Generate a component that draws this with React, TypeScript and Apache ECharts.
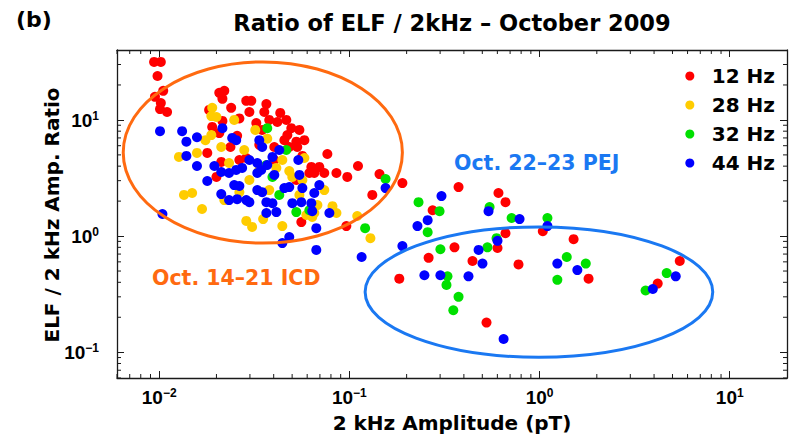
import React, { useEffect, useRef } from 'react';
import * as echarts from 'echarts';

const seriesNames = ['12 Hz', '28 Hz', '32 Hz', '44 Hz'];
const seriesColors = ['#ff0000', '#ffcc00', '#00e000', '#0000ff'];

// [2 kHz amplitude (pT), ELF / 2 kHz ratio]
const hz12: number[][] = [
  [0.0094, 31.6], [0.0102, 31.6], [0.0098, 23.9], [0.0095, 15.8], [0.0105, 17.8], [0.0102, 14.0], [0.0101, 12.4], [0.0110, 11.7],
  [0.0207, 17.1], [0.0220, 17.8], [0.0215, 15.2], [0.0287, 14.6], [0.0305, 14.6], [0.0366, 13.7], [0.0298, 11.7], [0.0239, 12.7],
  [0.0215, 9.8], [0.0190, 8.7], [0.0207, 7.7], [0.0257, 7.3], [0.0324, 9.4], [0.0348, 8.2], [0.0433, 11.5], [0.0418, 9.6], [0.0466, 10.0],
  [0.0472, 7.4], [0.0526, 6.5], [0.0532, 5.85], [0.0483, 5.85], [0.0403, 5.85], [0.0766, 5.09], [0.0566, 4.9], [0.0631, 3.94], [0.0695, 3.94],
  [0.0738, 3.49], [0.0855, 3.49], [0.111, 4.01], [0.144, 3.42], [0.0975, 3.23], [0.0654, 3.49], [0.0179, 5.2], [0.0200, 3.23], [0.0212, 4.35],
  [0.0237, 5.85], [0.0287, 4.7], [0.0526, 3.04], [0.0559, 1.32], [0.0616, 3.49], [0.132, 2.26], [0.0964, 1.22], [0.190, 2.86],
  [0.0455, 6.7], [0.0495, 8.5], [0.0336, 6.1], [0.0264, 4.52], [0.0403, 4.52], [0.0183, 12.2],
  [0.0264, 10.3], [0.0379, 10.0], [0.0546, 8.2], [0.0580, 6.7], [0.0357, 11.7],
  [0.375, 2.64], [0.608, 2.35], [0.662, 1.96], [0.274, 1.67], [0.357, 0.80], [0.261, 0.65], [0.444, 0.61], [0.601, 0.79], [0.662, 1.06],
  [0.775, 0.57], [0.183, 0.43], [0.526, 0.18], [1.04, 1.10], [1.51, 0.94], [1.81, 0.43], [5.46, 0.61], [4.18, 0.39],
];

const hz28: number[][] = [
  [0.0190, 12.7], [0.0188, 10.8], [0.0200, 10.6], [0.0248, 10.0], [0.0320, 8.2], [0.0175, 6.7], [0.0127, 4.8], [0.0158, 5.2],
  [0.0135, 2.26], [0.0149, 2.35], [0.0168, 1.71], [0.0287, 1.35], [0.0308, 1.20], [0.0233, 4.26], [0.0370, 6.9], [0.0444, 4.52],
  [0.0483, 3.63], [0.0413, 3.86], [0.0580, 4.7], [0.0352, 1.40], [0.0444, 1.22], [0.0594, 1.52], [0.0638, 1.46], [0.0815, 1.81],
  [0.110, 1.49], [0.129, 0.96], [0.0654, 1.58], [0.0679, 1.85], [0.0501, 3.23], [0.0566, 3.04], [0.0855, 1.58], [0.0298, 3.04],
  [0.0264, 2.39], [0.0220, 2.04], [0.0379, 2.49], [0.0280, 5.51], [0.0212, 5.85], [0.0188, 7.4],
  [0.0336, 3.71], [0.0546, 2.26], [0.0738, 2.49],
];

const hz32: number[][] = [
  [0.0370, 8.5], [0.0466, 5.51], [0.0394, 3.23], [0.0366, 4.09], [0.0428, 2.26], [0.0526, 1.61], [0.0616, 1.67], [0.121, 1.17],
  [0.155, 3.10], [0.231, 1.96], [0.298, 1.64], [0.258, 1.08], [0.301, 0.77], [0.328, 0.45], [0.324, 0.38], [0.375, 0.30], [0.352, 0.23],
  [0.713, 1.43], [0.532, 0.80], [0.594, 0.96], [0.546, 1.78], [1.10, 1.43], [1.24, 0.42], [1.39, 0.66], [1.75, 0.58], [4.66, 0.48], [3.61, 0.34],
];

const hz44: number[][] = [
  [0.0101, 8.0], [0.0132, 8.0], [0.0139, 6.5], [0.0158, 7.1], [0.0215, 8.5], [0.0242, 7.0], [0.0254, 6.7], [0.0336, 6.7], [0.0348, 5.85],
  [0.0428, 5.51], [0.0394, 4.8], [0.0539, 4.52], [0.0370, 4.09], [0.0344, 3.71], [0.0139, 4.9], [0.0158, 4.01], [0.0179, 2.98], [0.0212, 2.30],
  [0.0104, 1.55], [0.0195, 4.01], [0.0212, 3.56], [0.0233, 3.49], [0.0254, 3.71], [0.0273, 3.86], [0.0248, 2.75], [0.0264, 2.70], [0.0257, 2.08],
  [0.0287, 2.04], [0.0298, 1.96], [0.0328, 2.49], [0.0348, 2.39], [0.0328, 3.49], [0.0328, 4.26], [0.0366, 1.96], [0.0394, 1.92], [0.0366, 1.58],
  [0.0413, 1.61], [0.0455, 2.59], [0.0483, 2.64], [0.0501, 1.92], [0.0559, 1.96], [0.0566, 2.59], [0.0631, 1.92], [0.0654, 2.35], [0.0403, 3.36],
  [0.0444, 0.87], [0.0483, 0.98], [0.0670, 0.76], [0.0670, 1.17], [0.0638, 1.64], [0.0785, 1.58], [0.116, 0.66], [0.155, 2.59],
  [0.0298, 4.52], [0.0233, 2.04], [0.0546, 3.36], [0.0695, 2.75],
  [0.305, 2.21], [0.258, 1.37], [0.228, 1.22], [0.190, 0.82], [0.539, 1.64], [0.785, 1.40], [0.601, 0.91], [0.478, 0.76], [0.501, 0.58],
  [0.248, 0.46], [0.301, 0.46], [0.423, 0.45], [0.647, 0.13], [1.10, 1.22], [1.24, 0.58], [1.58, 0.51], [5.20, 0.45], [3.94, 0.35],
];

const seriesData = [hz12, hz28, hz32, hz44];

// Ellipse bounding boxes in data units: [xMin, xMax, yMin, yMax]
const ellipseBoxes: number[][] = [
  [0.00647, 0.190, 0.87, 31.6],
  [0.121, 8.14, 0.0906, 1.20],
];
const ellipseColors = ['#ff6a10', '#1a78f2'];

const xTickExps = [-2, -1, 0, 1];
const yTickExps = [-1, 0, 1];
const xMinorTicks = [0.006, 0.007, 0.008, 0.009, 0.02, 0.03, 0.04, 0.05, 0.06, 0.07, 0.08, 0.09,
  0.2, 0.3, 0.4, 0.5, 0.6, 0.7, 0.8, 0.9, 2, 3, 4, 5, 6, 7, 8, 9];
const yMinorTicks = [0.06, 0.07, 0.08, 0.09, 0.2, 0.3, 0.4, 0.5, 0.6, 0.7, 0.8, 0.9,
  2, 3, 4, 5, 6, 7, 8, 9, 20, 30];

const X_MIN = 0.006, X_MAX = 20, Y_MIN = 0.06, Y_MAX = 40;

const AXIS_COLOR = '#1a1a1a';
const BOLD = 'DejaVu Sans';

const makeFormatter = (exps: number[]) => (v: number) => {
  const l = Math.log10(v);
  const e = Math.round(l);
  if (Math.abs(l - e) > 0.01 || exps.indexOf(e) < 0) return '';
  return `{b|10}{s|${e < 0 ? '\u2212' : ''}${Math.abs(e)}}`;
};

const labelRich = {
  b: { fontFamily: 'Liberation Sans', fontWeight: 'bold', fontSize: 19, color: '#000', verticalAlign: 'bottom', lineHeight: 20 },
  s: { fontFamily: 'Liberation Sans', fontWeight: 'bold', fontSize: 12, color: '#000', verticalAlign: 'top', lineHeight: 20 },
};

const baseAxis = (min: number, max: number) => ({
  type: 'log',
  logBase: 10,
  min,
  max,
  axisLine: { show: true, onZero: false, lineStyle: { color: AXIS_COLOR, width: 1.3 } },
  axisTick: { show: true, inside: true, length: 7, lineStyle: { color: AXIS_COLOR, width: 1 } },
  splitLine: { show: false },
  minorTick: { show: false },
});

export default function App() {
  const ref = useRef<HTMLDivElement>(null);
  useEffect(() => {
    document.body.style.margin = '0';
    const chart = echarts.init(ref.current!, null, { renderer: 'svg' });
    const option: any = {
      animation: false,
      backgroundColor: '#fff',
      grid: { left: 117, right: 7, top: 50, bottom: 62, containLabel: false },
      xAxis: [
        { ...baseAxis(X_MIN, X_MAX), position: 'bottom',
          axisLabel: { formatter: makeFormatter(xTickExps), margin: 9, rich: labelRich } },
        { ...baseAxis(X_MIN, X_MAX), position: 'top', axisLabel: { show: false } },
      ],
      yAxis: [
        { ...baseAxis(Y_MIN, Y_MAX), position: 'left',
          axisLabel: { formatter: makeFormatter(yTickExps), margin: 18, rich: labelRich } },
        { ...baseAxis(Y_MIN, Y_MAX), position: 'right', axisLabel: { show: false } },
      ],
      legend: {
        data: seriesNames.map((n) => ({ name: n, icon: 'circle' })),
        orient: 'vertical',
        right: 14,
        top: 61,
        itemWidth: 34,
        itemHeight: 9,
        itemGap: 9,
        selectedMode: false,
        textStyle: { fontFamily: BOLD, fontWeight: 'bold', fontSize: 20, color: '#000' },
      },
      series: [
        ...seriesNames.map((name, i) => ({
          type: 'scatter',
          name,
          data: seriesData[i],
          symbol: 'circle',
          symbolSize: 10,
          itemStyle: { color: seriesColors[i], opacity: 1 },
          z: 2 + i * 0.01,
          xAxisIndex: 0,
          yAxisIndex: 0,
        })),
        {
          type: 'custom',
          name: 'ellipses',
          silent: true,
          z: 5,
          clip: false,
          xAxisIndex: 0,
          yAxisIndex: 0,
          data: ellipseBoxes,
          encode: { x: [0, 1], y: [2, 3] },
          renderItem: (params: any, api: any) => {
            const p1 = api.coord([api.value(0), api.value(2)]);
            const p2 = api.coord([api.value(1), api.value(3)]);
            return {
              type: 'ellipse',
              shape: {
                cx: (p1[0] + p2[0]) / 2,
                cy: (p1[1] + p2[1]) / 2,
                rx: Math.abs(p2[0] - p1[0]) / 2,
                ry: Math.abs(p2[1] - p1[1]) / 2,
              },
              style: { fill: 'none', stroke: ellipseColors[params.dataIndex], lineWidth: 3 },
            };
          },
        },
        {
          type: 'custom',
          name: 'xminor',
          silent: true,
          z: 6,
          clip: false,
          xAxisIndex: 0,
          yAxisIndex: 0,
          data: xMinorTicks.map((v) => [v, 1]),
          encode: { x: 0, y: 1 },
          renderItem: (params: any, api: any) => {
            const cs = params.coordSys;
            const px = api.coord([api.value(0), 1])[0];
            const b = cs.y + cs.height;
            return {
              type: 'group',
              children: [
                { type: 'line', shape: { x1: px, y1: b, x2: px, y2: b - 4 }, style: { stroke: AXIS_COLOR, lineWidth: 1 } },
                { type: 'line', shape: { x1: px, y1: cs.y, x2: px, y2: cs.y + 4 }, style: { stroke: AXIS_COLOR, lineWidth: 1 } },
              ],
            };
          },
        },
        {
          type: 'custom',
          name: 'yminor',
          silent: true,
          z: 6,
          clip: false,
          xAxisIndex: 0,
          yAxisIndex: 0,
          data: yMinorTicks.map((v) => [0.1, v]),
          encode: { x: 0, y: 1 },
          renderItem: (params: any, api: any) => {
            const cs = params.coordSys;
            const py = api.coord([0.1, api.value(1)])[1];
            const r = cs.x + cs.width;
            return {
              type: 'group',
              children: [
                { type: 'line', shape: { x1: cs.x, y1: py, x2: cs.x + 4, y2: py }, style: { stroke: AXIS_COLOR, lineWidth: 1 } },
                { type: 'line', shape: { x1: r, y1: py, x2: r - 4, y2: py }, style: { stroke: AXIS_COLOR, lineWidth: 1 } },
              ],
            };
          },
        },
      ],
      graphic: [
        { type: 'text', left: 16, top: 8, style: { text: '(b)', font: `bold 22px "${BOLD}"`, fill: '#000' } },
        { type: 'text', x: 452, y: 23, style: { text: 'Ratio of ELF / 2kHz \u2013 October 2009', font: `bold 22.5px "${BOLD}"`, fill: '#000', textAlign: 'center', textVerticalAlign: 'middle' } },
        { type: 'text', x: 452, y: 423, style: { text: '2 kHz Amplitude (pT)', font: `bold 20px "${BOLD}"`, fill: '#000', textAlign: 'center', textVerticalAlign: 'middle' } },
        { type: 'text', x: 52, y: 215, rotation: Math.PI / 2, style: { text: 'ELF / 2 kHz Amp. Ratio', font: `bold 20px "${BOLD}"`, fill: '#000', textAlign: 'center', textVerticalAlign: 'middle' } },
        { type: 'text', x: 152, y: 278, style: { text: 'Oct. 14\u201321 ICD', font: `bold 20.5px "${BOLD}"`, fill: ellipseColors[0], textAlign: 'left', textVerticalAlign: 'middle' } },
        { type: 'text', x: 454, y: 163, style: { text: 'Oct. 22\u201323 PEJ', font: `bold 20.5px "${BOLD}"`, fill: ellipseColors[1], textAlign: 'left', textVerticalAlign: 'middle' } },
      ],
    };
    chart.setOption(option);
    return () => chart.dispose();
  }, []);
  return <div ref={ref} style={{ width: 794, height: 440 }} />;
}
